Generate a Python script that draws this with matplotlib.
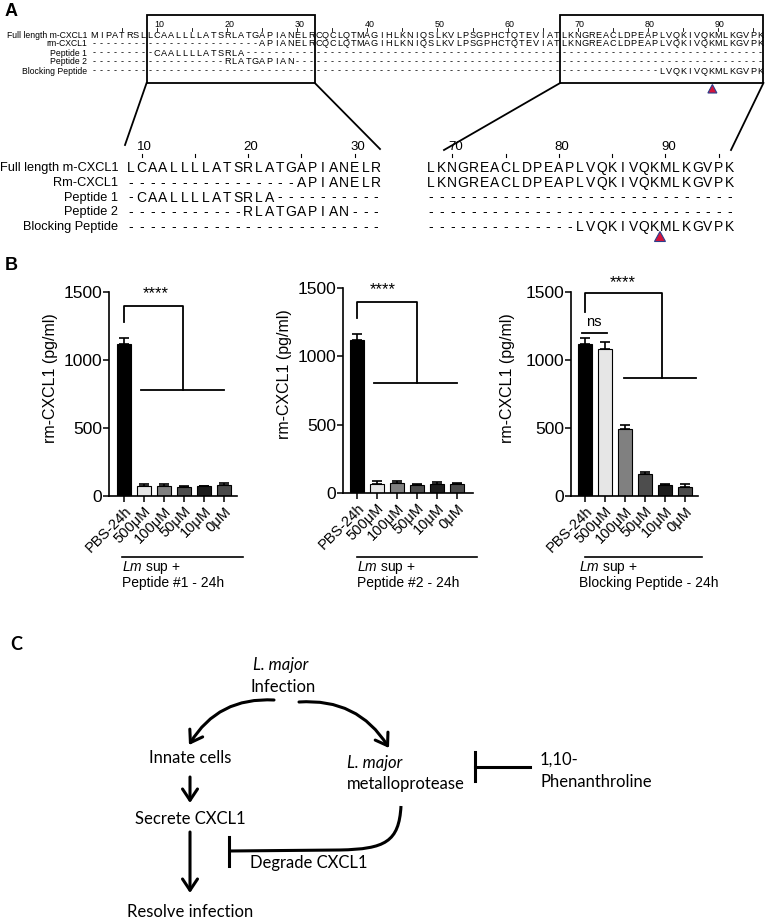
import matplotlib
matplotlib.use('Agg')
import matplotlib.pyplot as plt
from matplotlib.patches import Rectangle, FancyArrowPatch, Polygon, PathPatch
from matplotlib.path import Path
import matplotlib.transforms as mtransforms

plt.rcParams['font.family'] = ['Liberation Sans', 'DejaVu Sans']
plt.rcParams['mathtext.fontset'] = 'custom'
plt.rcParams['mathtext.it'] = 'Liberation Sans:italic'
plt.rcParams['mathtext.rm'] = 'Liberation Sans'

# ---------------- data ----------------
full_seq = "MIPATRSLLCAALLLLATSRLATGAPIANELRCQCLQTMAGIHLKNIQSLKVLPSGPHCTQTEVIATLKNGREACLDPEAPLVQKIVQKMLKGVPK"
top_labels = ["Full length m-CXCL1", "rm-CXCL1", "Peptide 1", "Peptide 2", "Blocking Peptide"]
zoom_labels = ["Full length m-CXCL1", "Rm-CXCL1", "Peptide 1", "Peptide 2", "Blocking Peptide"]
row_ranges = [(1, 96), (25, 96), (10, 22), (20, 29), (82, 96)]   # residues present in each row
zoom_left_range = (9, 32)
zoom_right_range = (68, 96)
cleavage_site = 89.5

cats = ["PBS-24h", "500μM", "100μM", "50μM", "10μM", "0μM"]
pep1_vals = [1120, 70, 75, 65, 70, 80]
pep1_err = [45, 20, 15, 12, 5, 12]
pep2_vals = [1120, 65, 75, 60, 65, 65]
pep2_err = [45, 20, 10, 8, 12, 10]
block_vals = [1120, 1080, 490, 165, 80, 65]
block_err = [45, 55, 30, 12, 5, 20]
bar_colors = ['#000000', '#e6e6e6', '#808080', '#4d4d4d', '#1c1c1c', '#4a4a4a']
group_titles = ["Peptide #1 - 24h", "Peptide #2 - 24h", "Blocking Peptide - 24h"]
yticks = [0, 500, 1000, 1500]

W, H = 768, 919
fig = plt.figure(figsize=(W / 100, H / 100), dpi=100)
ov = fig.add_axes([0, 0, 1, 1])
ov.set_xlim(0, W)
ov.set_ylim(H, 0)
ov.axis('off')

def rows_strings():
    out = []
    for (a, b) in row_ranges:
        s = ''.join(full_seq[i - 1] if a <= i <= b else '-' for i in range(1, 97))
        out.append(s)
    return out

rows = rows_strings()

# ---------------- Panel A ----------------
ov.text(5, 11, "A", fontsize=13, fontweight='bold', ha='left', va='center')

def xt(i):
    return 94 + 7.01 * (i - 1)

row_y_top = [35.5, 44, 53, 62, 71]
for lab, y, s in zip(top_labels, row_y_top, rows):
    ov.text(87, y, lab, fontsize=6.2, ha='right', va='center')
    for i, ch in enumerate(s, start=1):
        ov.text(xt(i), y, ch, fontsize=6.6, ha='center', va='center')
for i in range(5, 97, 5):
    ov.plot([xt(i), xt(i)], [28, 30.5], color='black', lw=0.6)
    if i % 10 == 0:
        ov.text(xt(i) + 2, 24.5, str(i), fontsize=6.4, ha='center', va='center')

# boxes
lb = (xt(zoom_left_range[0]) - 3.5, xt(zoom_left_range[1]) + 3.5)
rb = (xt(zoom_right_range[0]) - 3.5, xt(zoom_right_range[1]) + 3.5)
for (a, b) in (lb, rb):
    ov.add_patch(Rectangle((a, 15), b - a, 68, fill=False, ec='black', lw=1.3))

def xzl(i):
    return 131 + 10.65 * (i - zoom_left_range[0])

def xzr(i):
    return 431 + 10.65 * (i - zoom_right_range[0])

# connecting lines
ov.plot([lb[0], 125], [83, 145], color='black', lw=1.3)
ov.plot([lb[1], 380], [83, 149], color='black', lw=1.3)
ov.plot([rb[0], 444], [83, 150], color='black', lw=1.3)
ov.plot([rb[1], 731], [83, 150], color='black', lw=1.3)

row_y_zoom = [168, 183, 197.5, 212, 227]
for lab, y, s in zip(zoom_labels, row_y_zoom, rows):
    ov.text(118, y, lab, fontsize=9.2, ha='right', va='center')
    for i in range(zoom_left_range[0], zoom_left_range[1] + 1):
        ov.text(xzl(i), y, s[i - 1], fontsize=10, ha='center', va='center')
    for i in range(zoom_right_range[0], zoom_right_range[1] + 1):
        ov.text(xzr(i), y, s[i - 1], fontsize=10, ha='center', va='center')

for i in range(10, 31, 5):
    ov.plot([xzl(i), xzl(i)], [153.5, 157], color='black', lw=0.8)
    if i % 10 == 0:
        ov.text(xzl(i) + 3, 147, str(i), fontsize=9.5, ha='center', va='center')
for i in range(70, 96, 5):
    ov.plot([xzr(i), xzr(i)], [153.5, 157], color='black', lw=0.8)
    if i % 10 == 0:
        ov.text(xzr(i) + 3, 147, str(i), fontsize=9.5, ha='center', va='center')

def triangle(cx, ytop, w, h):
    ov.add_patch(Polygon([(cx, ytop), (cx - w / 2, ytop + h), (cx + w / 2, ytop + h)],
                         closed=True, fc='#d4143c', ec='#2c3f8c', lw=0.8))

triangle(xt(cleavage_site) - 2, 84.5, 9, 8.5)
triangle(xzr(cleavage_site), 231.5, 11, 10)

# ---------------- Panel B ----------------
ov.text(5, 266, "B", fontsize=13, fontweight='bold', ha='left', va='center')

panels = [
    dict(rect=(109, 496, 128, 204), xlim=(-0.75, 5.65), vals=pep1_vals, err=pep1_err,
         br=dict(y0=1280, top=1400, x1=2.95, low=780, h0=0.85, h1=5.0), stars=(1.6, 1485), ns=None,
         ylab_x=-0.40, line=(122, 243), tx=122),
    dict(rect=(343, 493, 130, 205), xlim=(-0.7, 5.8), vals=pep2_vals, err=pep2_err,
         br=dict(y0=1280, top=1398, x1=3.0, low=805, h0=0.85, h1=5.0), stars=(1.3, 1485), ns=None,
         ylab_x=-0.39, line=(357, 477), tx=357),
    dict(rect=(571, 496, 127, 204), xlim=(-0.7, 5.65), vals=block_vals, err=block_err,
         br=dict(y0=1353, top=1490, x1=3.85, low=868, h0=1.95, h1=5.55), stars=(1.9, 1570),
         ns=dict(x0=-0.15, x1=1.1, y=1200, tx=0.45, ty=1280),
         ylab_x=-0.44, line=(585, 702), tx=579),
]

for k, p in enumerate(panels):
    l, b, w, h = p['rect']
    ax = fig.add_axes([l / W, 1 - b / H, w / W, h / H])
    ax.set_facecolor('none')
    xs = list(range(len(cats)))
    ax.bar(xs, p['vals'], width=0.7, color=bar_colors, edgecolor='black', linewidth=0.8,
           yerr=[[0] * len(cats), p['err']], capsize=3.5,
           error_kw=dict(ecolor='black', elinewidth=1.2, capthick=1.2))
    ax.set_xlim(*p['xlim'])
    ax.set_ylim(0, 1500)
    ax.set_yticks(yticks)
    ax.set_xticks(xs)
    ax.set_xticklabels(cats, rotation=45, ha='right', rotation_mode='anchor', fontsize=10.5)
    offset = mtransforms.ScaledTranslation(4 / 100, 0, fig.dpi_scale_trans)
    for lbl in ax.get_xticklabels():
        lbl.set_transform(lbl.get_transform() + offset)
    ax.tick_params(axis='y', labelsize=12.5, length=4, width=1.1, pad=1)
    ax.tick_params(axis='x', length=4, width=1.1, pad=2)
    for s in ('top', 'right'):
        ax.spines[s].set_visible(False)
    for s in ('left', 'bottom'):
        ax.spines[s].set_linewidth(1.2)
    ax.set_ylabel("rm-CXCL1 (pg/ml)", fontsize=11.5)
    ax.yaxis.set_label_coords(p['ylab_x'], 0.58)
    br = p['br']
    ax.plot([0, 0, br['x1'], br['x1']], [br['y0'], br['top'], br['top'], br['low']],
            color='black', lw=1.3, clip_on=False)
    ax.plot([br['h0'], br['h1']], [br['low'], br['low']], color='black', lw=1.3, clip_on=False)
    ax.text(p['stars'][0], p['stars'][1], "****", fontsize=12, ha='center', va='center', clip_on=False)
    if p['ns']:
        ns = p['ns']
        ax.plot([ns['x0'], ns['x1']], [ns['y'], ns['y']], color='black', lw=1.3)
        ax.text(ns['tx'], ns['ty'], "ns", fontsize=10.5, ha='center', va='center')
    # group annotation
    ov.plot(p['line'], [557, 557], color='black', lw=1.2)
    ov.text(p['tx'], 568, r"$\mathit{Lm}$ sup +", fontsize=10, ha='left', va='center')
    ov.text(p['tx'], 583, group_titles[k], fontsize=10, ha='left', va='center')

# ---------------- Panel C ----------------
cf = ['Lato', 'DejaVu Sans']
ov.text(10, 645, "C", fontsize=13, fontweight='bold', ha='left', va='center', family=cf)
fs = 12
ov.text(281, 665, "L. major", fontsize=fs, style='italic', ha='center', va='center', family=cf)
ov.text(283, 687, "Infection", fontsize=fs, ha='center', va='center', family=cf)
ov.text(190, 758, "Innate cells", fontsize=fs, ha='center', va='center', family=cf)
ov.text(190, 819, "Secrete CXCL1", fontsize=fs, ha='center', va='center', family=cf)
ov.text(190, 912, "Resolve infection", fontsize=fs, ha='center', va='center', family=cf)
ov.text(347, 763, "L. major", fontsize=fs, style='italic', ha='left', va='center', family=cf)
ov.text(347, 784, "metalloprotease", fontsize=fs, ha='left', va='center', family=cf)
ov.text(540, 760, "1,10-", fontsize=fs, ha='left', va='center', family=cf)
ov.text(540, 782, "Phenanthroline", fontsize=fs, ha='left', va='center', family=cf)
ov.text(250, 863, "Degrade CXCL1", fontsize=fs, ha='left', va='center', family=cf)

def arrow(p0, p1, rad=0.0):
    ov.add_patch(FancyArrowPatch(p0, p1, arrowstyle='->,head_length=0.45,head_width=0.3',
                                 connectionstyle=f'arc3,rad={rad}', mutation_scale=18,
                                 lw=2.2, color='black', shrinkA=0, shrinkB=0))

arrow((274, 700), (189, 745), rad=0.3)
arrow((299, 702), (389, 748), rad=-0.3)
arrow((190, 777), (190, 803))
arrow((190, 832), (190, 893))

# inhibition from phenanthroline
ov.plot([475, 475], [752, 781], color='black', lw=2.2)
ov.plot([475, 530], [767, 767], color='black', lw=2.2)
# degrade curve
path = Path([(401, 806), (399, 842), (385, 849), (340, 850), (229, 851)],
            [Path.MOVETO, Path.CURVE4, Path.CURVE4, Path.CURVE4, Path.LINETO])
ov.add_patch(PathPatch(path, fc='none', ec='black', lw=2.2))
ov.plot([229, 229], [837, 866], color='black', lw=2.2)

fig.savefig('out.png', dpi=100)
